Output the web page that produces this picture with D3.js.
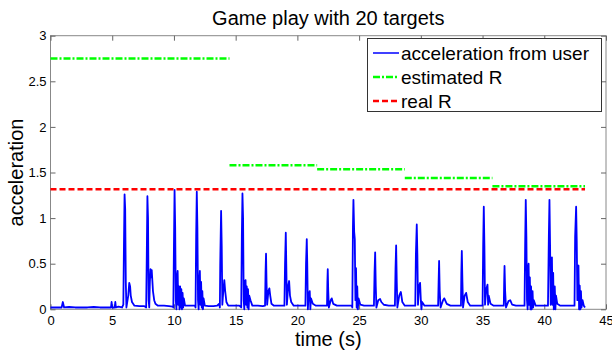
<!DOCTYPE html>
<html>
<head>
<meta charset="utf-8">
<script src="https://cdn.jsdelivr.net/npm/d3@7"></script>
<style>
	body { margin: 0; background: white; }
	svg { display: block; font-family: Arial, "Liberation Sans", sans-serif; }
</style>
</head>
<body>
<script>
// acceleration from user: [time (s), acceleration]
var accel = [
	[0,0.02],[0.5,0.02],[0.9,0.02],[1.0,0.08],[1.1,0.02],[1.5,0.025],[2,0.02],[2.5,0.02],[3,0.02],[3.5,0.025],[4,0.02],[4.5,0.02],
	[4.9,0.02],[4.95,0.08],[5.0,0.02],[5.2,0.02],[5.25,0.08],[5.3,0.02],[5.5,0.03],[5.8,0.02],[5.9,0.05],
	[5.95,0.7],[6.0,1.26],[6.05,1.1],[6.1,0.3],[6.15,0.02],[6.3,0.15],[6.38,0.29],[6.45,0.25],[6.5,0.15],[6.6,0.08],[6.8,0.04],[7.2,0.035],[7.6,0.035],[7.75,0.02],
	[7.8,0.6],[7.85,1.24],[7.9,1.0],[7.95,0.1],[8.0,0.02],[8.05,0.3],[8.1,0.44],[8.15,0.35],[8.2,0.43],[8.3,0.2],[8.4,0.1],[8.5,0.06],[8.7,0.04],[9.2,0.04],[9.6,0.035],[9.9,0.03],[9.95,0.02],
	[10.0,0.7],[10.05,1.31],[10.1,0.9],[10.15,0.1],[10.2,0.0],[10.25,0.35],[10.3,0.42],[10.35,0.05],[10.4,0.25],[10.45,0.0],[10.5,0.25],[10.55,0.02],[10.6,0.22],[10.65,0.0],[10.7,0.18],[10.75,0.02],[10.8,0.12],[10.9,0.04],[11.3,0.04],[11.7,0.04],[11.75,0.02],
	[11.8,0.8],[11.85,1.29],[11.9,0.9],[11.95,0.1],[12.0,0.0],[12.05,0.3],[12.1,0.42],[12.15,0.05],[12.2,0.3],[12.25,0.02],[12.3,0.2],[12.35,0.0],[12.4,0.12],[12.5,0.04],[12.8,0.035],[13.2,0.035],[13.5,0.04],[13.65,0.06],[13.72,0.02],
	[13.75,0.5],[13.82,1.08],[13.87,0.7],[13.92,0.05],[14.0,0.2],[14.08,0.32],[14.15,0.2],[14.25,0.08],[14.4,0.04],[14.9,0.04],[15.3,0.04],[15.45,0.02],
	[15.5,0.8],[15.55,1.27],[15.6,1.0],[15.65,0.1],[15.7,0.0],[15.75,0.3],[15.8,0.32],[15.85,0.05],[15.9,0.25],[15.95,0.02],[16.0,0.22],[16.05,0.0],[16.1,0.15],[16.2,0.1],[16.35,0.04],[16.8,0.04],[17.2,0.035],[17.38,0.04],
	[17.42,0.4],[17.46,0.61],[17.5,0.3],[17.55,0.05],[17.65,0.2],[17.73,0.23],[17.8,0.15],[17.9,0.06],[18.1,0.04],[18.5,0.04],[18.95,0.04],
	[19.0,0.5],[19.06,0.84],[19.1,0.5],[19.15,0.05],[19.25,0.25],[19.33,0.31],[19.4,0.15],[19.5,0.08],[19.7,0.04],[20.2,0.04],[20.65,0.04],
	[20.7,0.5],[20.76,0.77],[20.8,0.5],[20.85,0.0],[20.9,0.15],[21.0,0.2],[21.05,0.0],[21.1,0.12],[21.25,0.06],[21.5,0.04],[22.0,0.04],[22.4,0.04],
	[22.43,0.3],[22.46,0.44],[22.5,0.2],[22.55,0.02],[22.7,0.1],[22.78,0.12],[22.9,0.06],[23.2,0.04],[23.8,0.04],[24.4,0.04],[24.45,0.02],
	[24.5,0.9],[24.54,1.2],[24.6,0.85],[24.65,0.77],[24.7,0.1],[24.75,0.45],[24.8,0.02],[24.85,0.25],[24.9,0.0],[24.95,0.12],[25.1,0.05],[25.4,0.04],[25.9,0.04],[26.2,0.04],
	[26.25,0.4],[26.3,0.625],[26.35,0.25],[26.4,0.02],[26.55,0.1],[26.7,0.113],[26.8,0.08],[27.0,0.05],[27.4,0.04],[27.9,0.04],
	[27.95,0.45],[28.0,0.7],[28.05,0.3],[28.1,0.02],[28.25,0.15],[28.38,0.19],[28.5,0.08],[28.7,0.04],[29.2,0.04],[29.55,0.04],
	[29.6,0.6],[29.67,0.93],[29.72,0.6],[29.77,0.05],[29.85,0.25],[29.94,0.29],[30.0,0.1],[30.05,0.0],[30.1,0.08],[30.3,0.04],[30.8,0.04],[31.4,0.04],
	[31.44,0.3],[31.48,0.53],[31.53,0.2],[31.6,0.02],[31.8,0.1],[31.9,0.12],[32.1,0.06],[32.4,0.04],[32.9,0.04],[33.25,0.04],
	[33.28,0.4],[33.32,0.64],[33.37,0.3],[33.42,0.02],[33.55,0.15],[33.67,0.18],[33.8,0.08],[34.0,0.04],[34.6,0.04],[35.0,0.04],
	[35.05,0.7],[35.1,1.125],[35.15,0.7],[35.2,0.05],[35.3,0.22],[35.4,0.27],[35.45,0.05],[35.5,0.15],[35.65,0.06],[35.9,0.04],[36.4,0.04],[36.72,0.04],
	[36.75,0.3],[36.78,0.475],[36.83,0.2],[36.9,0.02],[37.1,0.09],[37.24,0.1],[37.4,0.05],[37.7,0.04],[38.1,0.04],[38.4,0.04],
	[38.45,0.7],[38.5,1.2],[38.55,0.8],[38.6,0.1],[38.65,0.0],[38.7,0.45],[38.73,0.5],[38.78,0.05],[38.83,0.35],[38.88,0.0],[38.93,0.25],[38.98,0.0],[39.05,0.2],[39.1,0.02],[39.15,0.1],[39.3,0.04],[39.8,0.04],[40.3,0.04],
	[40.37,0.8],[40.42,1.2],[40.47,0.7],[40.52,0.05],[40.57,0.5],[40.62,0.57],[40.67,0.05],[40.72,0.4],[40.77,0.0],[40.85,0.25],[40.9,0.0],[40.95,0.15],[41.05,0.06],[41.3,0.04],[41.9,0.04],[42.45,0.04],
	[42.5,0.8],[42.58,1.125],[42.63,0.75],[42.68,0.1],[42.72,0.45],[42.77,0.48],[42.82,0.0],[42.87,0.26],[42.92,0.0],[42.97,0.2],[43.02,0.02],[43.1,0.1],[43.2,0.04],[43.3,0.02]
];

// estimated R steps: [start, end, value]
var estimatedR = [
	[0, 14.5, 2.75],
	[14.5, 21.6, 1.58],
	[21.6, 28.7, 1.535],
	[28.7, 35.8, 1.44],
	[35.8, 43.3, 1.35]
];

var realR = [[0, 1.315], [43.3, 1.315]];

var xTicks = [0, 5, 10, 15, 20, 25, 30, 35, 40, 45];
var yTicks = [0, 0.5, 1, 1.5, 2, 2.5, 3];

var legendLabels = ["acceleration from user", "estimated R", "real R"];

var width = 612;
var height = 350;

var plotLeft = 50.5, plotRight = 606, plotTop = 35.7, plotBottom = 309.3;

var svg = d3.select("body").append("svg")
		.attr("width", width)
		.attr("height", height)

var x = d3.scaleLinear().domain([0, 45]).range([plotLeft, plotRight]);
var y = d3.scaleLinear().domain([0, 3]).range([plotBottom, plotTop]);

// frame
svg.append("rect")
		.attr("x", plotLeft)
		.attr("y", plotTop)
		.attr("width", plotRight - plotLeft)
		.attr("height", plotBottom - plotTop)
		.attr("fill", "white")
		.attr("stroke", "#888")
		.attr("stroke-width", 1)

var styleAxis = g => {
	g.select(".domain").remove();
	g.selectAll(".tick line").attr("stroke", "#666");
	g.selectAll(".tick text")
		.attr("fill", "black")
		.style("font-size", "13px")
		.style("font-family", "Arial, 'Liberation Sans', sans-serif");
}

svg.append("g")
	.attr("transform", "translate(0," + plotBottom + ")")
	.call(d3.axisBottom(x).tickValues(xTicks).tickSizeInner(-5).tickSizeOuter(0).tickPadding(6).tickFormat(d => String(d)))
	.call(styleAxis)

svg.append("g")
	.attr("transform", "translate(0," + plotTop + ")")
	.call(d3.axisTop(x).tickValues(xTicks).tickSizeInner(-5).tickSizeOuter(0).tickFormat(""))
	.call(styleAxis)

svg.append("g")
	.attr("transform", "translate(" + plotLeft + ",0)")
	.call(d3.axisLeft(y).tickValues(yTicks).tickSizeInner(-5).tickSizeOuter(0).tickPadding(4).tickFormat(d => String(d)))
	.call(styleAxis)

svg.append("g")
	.attr("transform", "translate(" + plotRight + ",0)")
	.call(d3.axisRight(y).tickValues(yTicks).tickSizeInner(-5).tickSizeOuter(0).tickFormat(""))
	.call(styleAxis)

var plot = svg.append("g")

var line = d3.line()
	.x(d => x(d[0]))
	.y(d => y(d[1]))

plot.append("path")
		.datum(accel)
		.attr("fill", "none")
		.attr("stroke", "#0000ff")
		.attr("stroke-width", 1.8)
		.attr("stroke-linejoin", "round")
		.attr("d", line)

plot.selectAll(".est")
	.data(estimatedR)
	.enter().append("line")
		.attr("class", "est")
		.attr("x1", d => x(d[0]))
		.attr("x2", d => x(d[1]))
		.attr("y1", d => y(d[2]))
		.attr("y2", d => y(d[2]))
		.attr("stroke", "#00ff00")
		.attr("stroke-width", 2.5)
		.attr("stroke-dasharray", "7,2,2,2")

plot.append("path")
		.datum(realR)
		.attr("fill", "none")
		.attr("stroke", "#ff0000")
		.attr("stroke-width", 2.5)
		.attr("stroke-dasharray", "6,3")
		.attr("d", line)

// title and labels
svg.append("text")
		.attr("x", (plotLeft + plotRight) / 2)
		.attr("y", 25)
		.attr("text-anchor", "middle")
		.style("font-size", "20px")
		.text("Game play with 20 targets")

svg.append("text")
		.attr("x", (plotLeft + plotRight) / 2)
		.attr("y", 346)
		.attr("text-anchor", "middle")
		.style("font-size", "20px")
		.text("time (s)")

svg.append("text")
		.attr("transform", "translate(23," + ((plotTop + plotBottom) / 2) + ") rotate(-90)")
		.attr("text-anchor", "middle")
		.style("font-size", "20px")
		.text("acceleration")

// legend
var legend = svg.append("g")

legend.append("rect")
		.attr("x", 367.5)
		.attr("y", 38.5)
		.attr("width", 234)
		.attr("height", 73)
		.attr("fill", "white")
		.attr("stroke", "#333")
		.attr("stroke-width", 1)

var legendStyles = [
	{color: "#0000ff", dash: null, w: 1.5},
	{color: "#00ff00", dash: "7,2,2,2", w: 2.5},
	{color: "#ff0000", dash: "6,3", w: 2.5}
];

legendLabels.forEach((label, i) => {
	var ly = 53 + i * 24;
	var s = legendStyles[i];
	legend.append("line")
			.attr("x1", 373)
			.attr("x2", 399)
			.attr("y1", ly)
			.attr("y2", ly)
			.attr("stroke", s.color)
			.attr("stroke-width", s.w)
			.attr("stroke-dasharray", s.dash)
	legend.append("text")
			.attr("x", 401)
			.attr("y", ly + 7)
			.style("font-size", "19px")
			.text(label)
});
</script>
</body>
</html>
